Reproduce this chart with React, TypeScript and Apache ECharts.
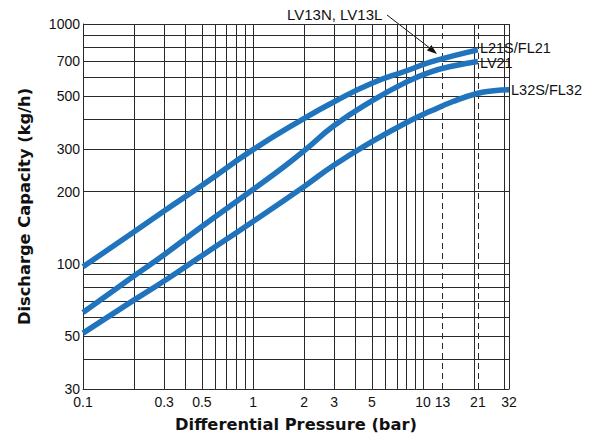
import { useEffect, useRef } from 'react';
import * as echarts from 'echarts';

const xGridValues = [0.1, 0.2, 0.3, 0.4, 0.5, 0.6, 0.7, 0.8, 0.9, 1, 2, 3, 4, 5, 6, 7, 8, 9, 10, 20, 30, 32];
const xDashedValues = [13, 21];
const xTickLabels = [0.1, 0.3, 0.5, 1, 2, 3, 5, 10, 13, 21, 32];
const yGridValues = [30, 40, 50, 60, 70, 80, 90, 100, 200, 300, 400, 500, 600, 700, 800, 900, 1000];
const yTickLabels = [30, 50, 100, 200, 300, 500, 700, 1000];

const seriesNames = ['L21S/FL21', 'LV21', 'L32S/FL32'];
const pressureL21S = [0.1, 0.2, 0.3, 0.5, 1, 2, 3, 5, 8, 11, 15, 21];
const capacityL21S = [97, 136, 166, 212, 299, 404, 474, 566, 638, 693, 736, 780];
const pressureLV21 = [0.1, 0.2, 0.3, 0.5, 1, 1.5, 2, 3, 5, 8, 11, 15, 21];
const capacityLV21 = [62.5, 89, 109, 143, 204, 252, 296, 377, 478, 573, 630, 668, 698];
const pressureL32S = [0.1, 0.2, 0.3, 0.5, 1, 2, 3, 5, 8, 11, 15, 21, 26, 32];
const capacityL32S = [51.3, 70.6, 84.7, 108, 150, 210, 258, 323, 388, 432, 475, 514, 527, 532];

const annotationText = 'LV13N, LV13L';
const xTitle = 'Differential Pressure (bar)';
const yTitle = 'Discharge Capacity (kg/h)';

const BLUE = '#1f74bd';
const GRID = '#2a2a2a';
const TICK_FONT = 'Liberation Sans, Arial, sans-serif';
const TITLE_FONT = 'DejaVu Sans, Verdana, sans-serif';

function pairs(xs: number[], ys: number[]) {
  return xs.map((x, i) => [x, ys[i]]);
}

export default function App() {
  const ref = useRef<HTMLDivElement>(null);
  useEffect(() => {
    if (!ref.current) return;
    const chart = echarts.init(ref.current, null, { renderer: 'svg' });
    const fmt = (v: number) => String(Number(v.toPrecision(3)));
    const curve = (name: string, data: number[][], labelOffset: number[], extra: any = {}) => ({
      type: 'line',
      name,
      data,
      smooth: 0.5,
      showSymbol: false,
      symbol: 'none',
      z: 3,
      lineStyle: { color: BLUE, width: 5.5, cap: 'butt' },
      itemStyle: { color: BLUE },
      endLabel: {
        show: true,
        formatter: '{a}',
        color: '#111',
        fontSize: 14.5,
        fontFamily: TICK_FONT,
        distance: 2,
        offset: labelOffset,
      },
      ...extra,
    });
    const option: any = {
      animation: false,
      grid: { left: 83, right: 91, top: 24, bottom: 49, containLabel: false },
      xAxis: {
        type: 'log',
        logBase: 10,
        min: 0.1,
        max: 32,
        name: xTitle,
        nameLocation: 'middle',
        nameGap: 27,
        nameTextStyle: { fontFamily: TITLE_FONT, fontWeight: 'bold', fontSize: 16.3, color: '#111' },
        axisLine: { show: true, lineStyle: { color: GRID, width: 1 } },
        axisTick: { show: false, customValues: xGridValues },
        axisLabel: {
          customValues: xTickLabels,
          formatter: (v: number) => fmt(v),
          color: '#111',
          fontSize: 14,
          fontFamily: TICK_FONT,
          margin: 6,
        },
        splitLine: { show: true, lineStyle: { color: GRID, width: 1 } },
        minorSplitLine: { show: false },
      },
      yAxis: {
        type: 'log',
        logBase: 10,
        min: 30,
        max: 1000,
        name: yTitle,
        nameLocation: 'middle',
        nameGap: 51,
        nameTextStyle: { fontFamily: TITLE_FONT, fontWeight: 'bold', fontSize: 16.3, color: '#111' },
        axisLine: { show: true, lineStyle: { color: GRID, width: 1 } },
        axisTick: { show: false, customValues: yGridValues },
        axisLabel: {
          customValues: yTickLabels,
          formatter: (v: number) => fmt(v),
          color: '#111',
          fontSize: 14,
          fontFamily: TICK_FONT,
          margin: 3,
          padding: [0, 0, 4, 0],
        },
        splitLine: { show: true, lineStyle: { color: GRID, width: 1 } },
      },
      series: [
        curve(seriesNames[0], pairs(pressureL21S, capacityL21S), [0, -2]),
        curve(seriesNames[1], pairs(pressureLV21, capacityLV21), [0, 1.5]),
        curve(seriesNames[2], pairs(pressureL32S, capacityL32S), [0, 0], {
          markLine: {
            silent: true,
            z: 1,
            symbol: 'none',
            label: { show: false },
            lineStyle: { color: GRID, width: 1, type: [6, 4] },
            data: xDashedValues.map((v) => ({ xAxis: v })),
          },
        }),
      ],
      graphic: [
        {
          type: 'text',
          left: 287,
          top: 7,
          style: {
            text: annotationText,
            fill: '#111',
            fontSize: 15,
            fontFamily: TICK_FONT,
          },
        },
        {
          type: 'line',
          shape: { x1: 387, y1: 15, x2: 431, y2: 49 },
          style: { stroke: '#111', lineWidth: 1 },
        },
        {
          type: 'polygon',
          shape: { points: [[437, 54], [427, 50.5], [431.4, 45]] },
          style: { fill: '#111' },
        },
      ],
    };
    chart.setOption(option);
    return () => chart.dispose();
  }, []);
  return <div ref={ref} style={{ width: 600, height: 438, position: 'absolute', left: 0, top: 0 }} />;
}
